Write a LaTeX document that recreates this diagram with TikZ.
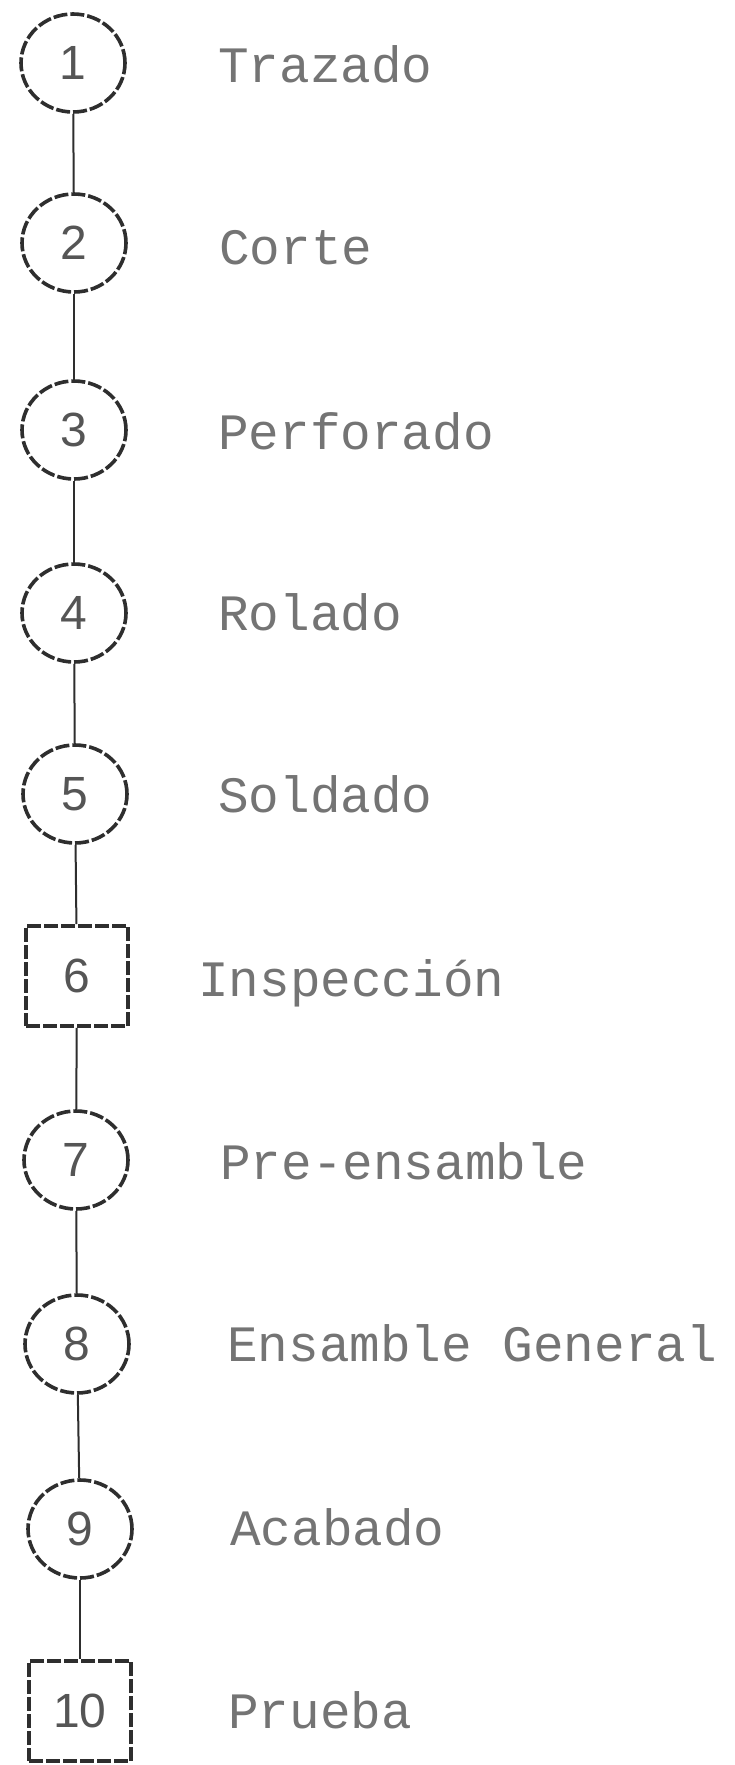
\documentclass[tikz,border=0pt]{standalone}
\usepackage{fontspec}
\usetikzlibrary{shapes.geometric}
\newfontfamily\steplabelfont{Liberation Mono}
\newfontfamily\stepnumfont{Liberation Sans}
\definecolor{outline}{HTML}{2E2E2E}
\definecolor{labelgrey}{HTML}{747474}
\definecolor{numgrey}{HTML}{555555}
\begin{document}
\begin{tikzpicture}[x=1pt,y=-1pt,
  opstep/.style={ellipse, draw=outline, line width=3.6pt, dash pattern=on 14pt off 3pt,
    minimum width=104pt, minimum height=98pt, inner sep=0pt,
    font=\stepnumfont\fontsize{48}{48}\selectfont, text=numgrey},
  inspstep/.style={rectangle, draw=outline, line width=3.6pt, dash pattern=on 14pt off 3pt,
    minimum width=102pt, minimum height=100pt, inner sep=0pt,
    font=\stepnumfont\fontsize{48}{48}\selectfont, text=numgrey},
  steplabel/.style={anchor=base west, inner sep=0pt, text=labelgrey,
    font=\steplabelfont\fontsize{51}{51}\selectfont},
  link/.style={draw=outline, line width=2pt}]
\fill[white] (0,0) rectangle (734,1765);
\useasboundingbox (0,0) rectangle (734,1765);

% process steps
\node[opstep]   (n1)  at (73,63)    {1};
\node[opstep]   (n2)  at (74,243)   {2};
\node[opstep]   (n3)  at (74,430)   {3};
\node[opstep]   (n4)  at (74,613)   {4};
\node[opstep]   (n5)  at (75,794)   {5};
\node[inspstep] (n6)  at (77,976)   {6};
\node[opstep]   (n7)  at (76,1160)  {7};
\node[opstep]   (n8)  at (77,1344)  {8};
\node[opstep]   (n9)  at (80,1529)  {9};
\node[inspstep] (n10) at (80,1711)  {10};

% step names
\node[steplabel] (t1)  at (218,82)   {Trazado};
\node[steplabel] (t2)  at (219,264)  {Corte};
\node[steplabel] (t3)  at (218,449)  {Perforado};
\node[steplabel] (t4)  at (218,630)  {Rolado};
\node[steplabel] (t5)  at (218,812)  {Soldado};
\node[steplabel] (t6)  at (198,996)  {Inspección};
\node[steplabel] (t7)  at (220,1179) {Pre-ensamble};
\node[steplabel] (t8)  at (227,1361) {Ensamble General};
\node[steplabel] (t9)  at (230,1545) {Acabado};
\node[steplabel] (t10) at (228,1728) {Prueba};

% sequence links
\draw[link] (n1) -- (n2);
\draw[link] (n2) -- (n3);
\draw[link] (n3) -- (n4);
\draw[link] (n4) -- (n5);
\draw[link] (n5) -- (n6);
\draw[link] (n6) -- (n7);
\draw[link] (n7) -- (n8);
\draw[link] (n8) -- (n9);
\draw[link] (n9) -- (n10);
\end{tikzpicture}
\end{document}
